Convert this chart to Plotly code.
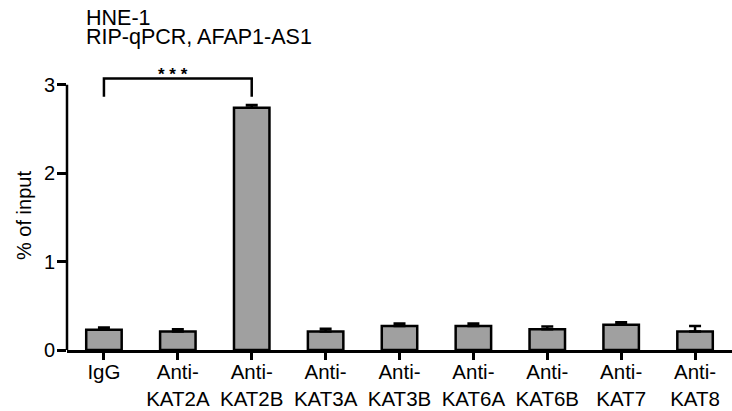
import plotly.graph_objects as go

categories = ["IgG", "Anti-<br>KAT2A", "Anti-<br>KAT2B", "Anti-<br>KAT3A", "Anti-<br>KAT3B",
              "Anti-<br>KAT6A", "Anti-<br>KAT6B", "Anti-<br>KAT7", "Anti-<br>KAT8"]
values = [0.23, 0.21, 2.74, 0.21, 0.27, 0.27, 0.235, 0.285, 0.21]
errors = [0.025, 0.025, 0.03, 0.03, 0.03, 0.03, 0.03, 0.03, 0.06]
ytick_vals = [0, 1, 2, 3]
bracket_y = [2.864, 3.07, 3.07, 2.864]
bracket_x = [categories[0], categories[0], categories[2], categories[2]]

FONT = "Arial, Liberation Sans, sans-serif"
W, H = 732, 411
L, R, T, B = 67, 0, 67, 61
YMAX = 3.2
PW, PH = W - L - R, H - T - B

def px(pix):
    return (pix - L) / PW

def py(pix):
    return (H - B - pix) / PH

fig = go.Figure()
fig.add_trace(go.Bar(
    x=categories, y=values, width=0.48,
    marker=dict(color="#a0a0a0", line=dict(color="black", width=2.5)),
    error_y=dict(type="data", array=errors, arrayminus=[0] * len(errors), symmetric=False,
                 color="black", thickness=2.5, width=6),
    hoverinfo="skip",
))
fig.add_trace(go.Scatter(
    x=bracket_x, y=bracket_y, mode="lines",
    line=dict(color="black", width=2.5), hoverinfo="skip",
))

# y axis line only up to 3
fig.add_shape(type="line", xref="paper", yref="y", x0=0, x1=0, y0=0, y1=3,
              line=dict(color="black", width=2.5))

fig.add_annotation(x=categories[1], y=3.12, xref="x", yref="y", text="<b>* * *</b>", showarrow=False,
                   xshift=-5, yanchor="middle",
                   font=dict(family=FONT, size=17, color="black"))
fig.add_annotation(x=px(84), y=py(17.5), xref="paper", yref="paper", text="HNE-1",
                   showarrow=False, xanchor="left", yanchor="middle",
                   font=dict(family=FONT, size=21.5, color="black"))
fig.add_annotation(x=px(84), y=py(37.5), xref="paper", yref="paper",
                   text="RIP-qPCR, AFAP1-AS1",
                   showarrow=False, xanchor="left", yanchor="middle",
                   font=dict(family=FONT, size=21.5, color="black"))
fig.add_annotation(x=px(24), y=py(216), xref="paper", yref="paper",
                   text="% of input", textangle=-90,
                   showarrow=False, xanchor="center", yanchor="middle",
                   font=dict(family=FONT, size=20, color="black"))

fig.update_layout(
    width=W, height=H, margin=dict(l=L, r=R, t=T, b=B),
    plot_bgcolor="white", paper_bgcolor="white", showlegend=False,
    font=dict(family=FONT, size=20, color="black"),
)
fig.update_xaxes(range=[-0.5, 8.5], showline=True, linecolor="black", linewidth=2.5,
                 ticks="outside", ticklen=7, tickwidth=2.5, tickcolor="black",
                 showgrid=False, zeroline=False, tickfont=dict(size=20.5),
                 ticklabelstandoff=-5)
fig.update_yaxes(range=[0, YMAX], showline=False, tickvals=ytick_vals,
                 ticks="outside", ticklen=9, tickwidth=2.5, tickcolor="black",
                 showgrid=False, zeroline=False, tickfont=dict(size=20),
                 ticklabelstandoff=-2)

fig.write_html("out.html", config={"displayModeBar": False},
               post_script="document.body.style.margin='0';")
